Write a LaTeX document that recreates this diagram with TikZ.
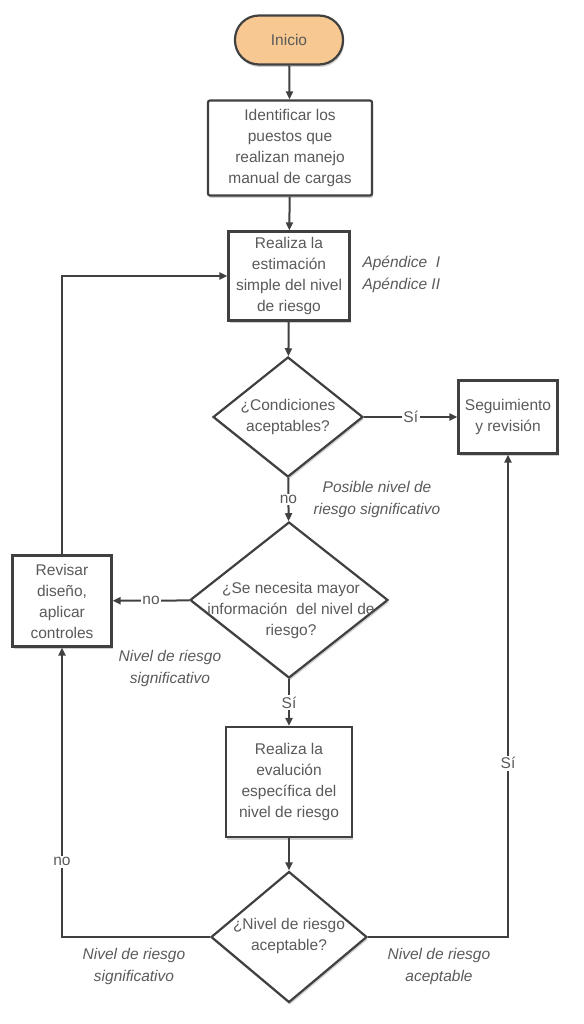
\documentclass[tikz,border=0pt]{standalone}
\usepackage{fontspec}
\setmainfont{Liberation Sans}
\usetikzlibrary{shapes.geometric,arrows.meta,shadows}
\definecolor{txtc}{HTML}{5A5A5A}
\definecolor{linec}{HTML}{404040}
\definecolor{startc}{HTML}{F7C891}
\begin{document}
\begin{tikzpicture}[x=1pt,y=-1pt,
  font=\fontsize{15.5}{21}\selectfont,
  every node/.style={text=txtc},
  shad/.style={drop shadow={shadow xshift=1pt,shadow yshift=-2.5pt,opacity=0.18,fill=black}},
  box/.style={draw=linec,line width=2.2pt,fill=white,shad,align=center,inner sep=0pt},
  dia/.style={diamond,draw=linec,line width=2.2pt,fill=white,shad,inner sep=0pt},
  txt/.style={align=center,inner sep=0pt},
  lab/.style={align=center,font=\fontsize{15.5}{22}\selectfont\itshape},
  yn/.style={fill=white,inner sep=1.5pt},
  conn/.style={draw=linec,line width=2pt,-{Triangle[length=8pt,width=7pt]}},
  plain/.style={draw=linec,line width=2pt}
]
\useasboundingbox (0,0) rectangle (583,1024);

\node[box,fill=startc,rounded corners=24pt,minimum width=108pt,minimum height=49pt] (ini) at (289,40) {Inicio};
\node[box,rounded corners=2pt,minimum width=164pt,minimum height=95pt] (b1) at (290,148) {Identificar los\\puestos que\\realizan manejo\\manual de cargas};
\node[box,minimum width=121pt,minimum height=89pt] (b2) at (289,276) {Realiza la\\estimación\\simple del nivel\\de riesgo};
\node[lab,align=left,anchor=west] (apx) at (359,274) {Apéndice\ \ I\\Apéndice II};

\node[dia,minimum width=150pt,minimum height=120pt] (d1) at (288,417) {};
\node[txt] at (288,417) {¿Condiciones\\aceptables?};

\node[box,minimum width=99pt,minimum height=73pt] (seg) at (508,417) {Seguimiento\\y revisión};

\node[lab] (pos) at (377,499) {Posible nivel de\\riesgo significativo};

\node[dia,minimum width=198pt,minimum height=156pt] (d2) at (289,600) {};
\node[txt] at (291,610) {¿Se necesita mayor\\información\ \ del nivel de\\riesgo?};

\node[box,minimum width=99pt,minimum height=91pt] (rev) at (62,601) {Revisar\\diseño,\\aplicar\\controles};
\node[lab] (sig1) at (170,668) {Nivel de riesgo\\significativo};

\node[box,minimum width=126pt,minimum height=110pt] (b3) at (289,782) {Realiza la\\evalución\\específica del\\nivel de riesgo};

\node[dia,minimum width=156pt,minimum height=131pt] (d3) at (289,937) {};
\node[txt] at (289,936) {¿Nivel de riesgo\\aceptable?};

\node[lab] (acc) at (439,966) {Nivel de riesgo\\aceptable};
\node[lab] (sig2) at (134,966) {Nivel de riesgo\\significativo};

\draw[conn] (ini) -- (b1);
\draw[conn] (b1) -- (b2);
\draw[conn] (b2) -- (d1);
\draw[conn] (d1) -- node[yn]{Sí} (seg);
\draw[conn] (d1) -- node[yn]{no} (d2);
\draw[conn] (d2) -- node[yn]{no} (rev);
\draw[conn] (d2) -- node[yn]{Sí} (b3);
\draw[conn] (b3) -- (d3);
\draw[conn] (d3.west) -| node[yn,pos=0.63]{no} (rev.south);
\draw[conn] (d3.east) -| node[yn,pos=0.68]{Sí} (seg.south);
\draw[conn] (rev.north) |- (b2.west);
\end{tikzpicture}
\end{document}
